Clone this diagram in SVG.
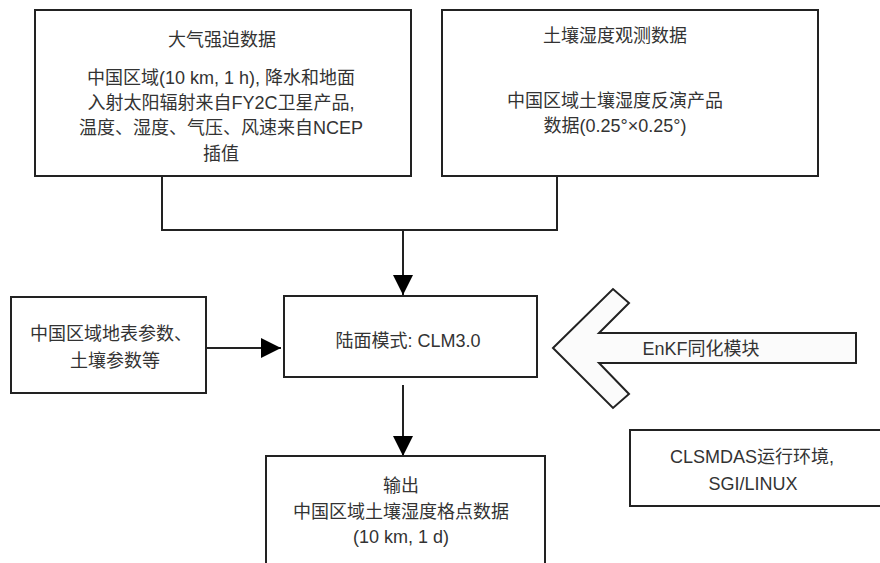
<svg xmlns="http://www.w3.org/2000/svg" width="880" height="563" viewBox="0 0 880 563">
<defs>
<style>
.box{fill:#fff;stroke:#222;stroke-width:2}
.t{font-family:"Liberation Sans","Noto Sans CJK SC",sans-serif;font-size:18px;fill:#333;text-anchor:middle}
.c{fill:none;stroke:#222;stroke-width:2}
</style>
<marker id="ah" markerWidth="20" markerHeight="20" viewBox="0 0 20 20" refX="20" refY="10" orient="auto" markerUnits="userSpaceOnUse">
<path d="M0,0 L20,10 L0,20 Z" fill="#000"/>
</marker>
</defs>
<rect width="880" height="563" fill="#fff"/>
<g id="connectors">
<path class="c" d="M162,176 V230 H557 V176"/>
<path class="c" d="M403,230 V295" marker-end="url(#ah)"/>
<path class="c" d="M206,348 H281" marker-end="url(#ah)"/>
<path class="c" d="M403,385 V456" marker-end="url(#ah)"/>
</g>
<g id="forcing">
<rect class="box" x="35" y="10" width="376" height="166"/>
<text class="t" x="222" y="46">大气强迫数据</text>
<text class="t" x="221" y="84">中国区域(10 km, 1 h), 降水和地面</text>
<text class="t" x="221" y="109">入射太阳辐射来自FY2C卫星产品,</text>
<text class="t" x="221" y="134">温度、湿度、气压、风速来自NCEP</text>
<text class="t" x="221" y="160">插值</text>
</g>
<g id="obs">
<rect class="box" x="442" y="10" width="376" height="166"/>
<text class="t" x="615" y="42">土壤湿度观测数据</text>
<text class="t" x="615" y="107">中国区域土壤湿度反演产品</text>
<text class="t" x="615" y="132">数据(0.25°×0.25°)</text>
</g>
<g id="params">
<rect class="box" x="11" y="297" width="195" height="96"/>
<text class="t" x="111" y="340">中国区域地表参数、</text>
<text class="t" x="115" y="367">土壤参数等</text>
</g>
<g id="clm">
<rect class="box" x="284" y="296" width="253" height="81"/>
<text class="t" x="408" y="347">陆面模式: CLM3.0</text>
</g>
<g id="enkf">
<path d="M553,348 L613,289 L629,303 L599,333 H856 V363 H599 L629,394 L613,408 Z" fill="#fbfbfb" stroke="#222" stroke-width="2" stroke-linejoin="miter"/>
<text class="t" x="701" y="355">EnKF同化模块</text>
</g>
<g id="output">
<rect class="box" x="266" y="456" width="279" height="130"/>
<text class="t" x="401" y="492">输出</text>
<text class="t" x="401" y="518">中国区域土壤湿度格点数据</text>
<text class="t" x="401" y="543">(10 km, 1 d)</text>
</g>
<g id="env">
<rect class="box" x="630" y="430" width="270" height="76"/>
<text class="t" x="752" y="463">CLSMDAS运行环境,</text>
<text class="t" x="753" y="490">SGI/LINUX</text>
</g>
</svg>
